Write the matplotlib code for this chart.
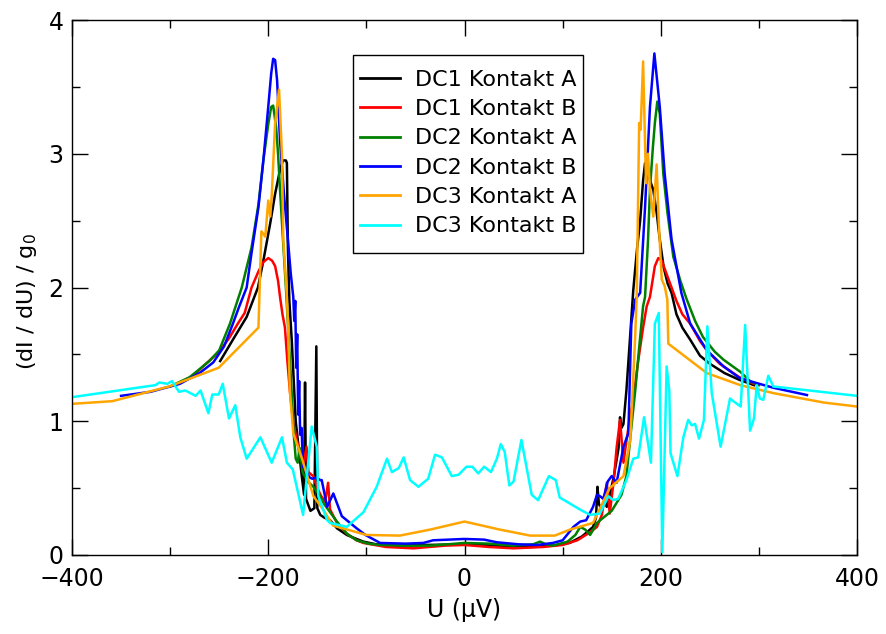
import matplotlib
matplotlib.use("Agg")
import matplotlib.pyplot as plt
from matplotlib.ticker import MultipleLocator
from matplotlib.patches import Rectangle

# ---------------- data ----------------
labels = ["DC1 Kontakt A", "DC1 Kontakt B", "DC2 Kontakt A",
          "DC2 Kontakt B", "DC3 Kontakt A", "DC3 Kontakt B"]
colors = ["#000000", "#ff0000", "#008000", "#0000ff", "#ffa500", "#00ffff"]

dc1a_x = [-249, -236, -222, -210.5, -205, -198, -193, -188, -185, -182, -181, -180, -178.5, -176,
          -174, -172, -169, -166, -163.5, -162.5, -161.5, -159, -157, -153, -151, -150, -147,
          -143, -137, -130, -120, -110, -103, -90, -69, -40, 0, 30, 67, 90, 107, 120, 131, 134,
          135.5, 137, 140, 143, 145, 148, 152, 155, 157, 158.5, 160, 162, 165, 168, 172, 176,
          179, 182, 184, 187, 190, 192.4, 196, 199, 203, 207, 211, 216, 222, 230, 240, 250, 265,
          280, 295]
dc1a_y = [1.45, 1.61, 1.78, 2.0, 2.2, 2.48, 2.7, 2.88, 2.95, 2.95, 2.93, 2.3, 1.9, 1.6,
          1.3, 1.0, 0.8, 0.6, 0.45, 1.29, 0.42, 0.37, 0.33, 0.35, 1.56, 0.35, 0.30,
          0.28, 0.26, 0.20, 0.15, 0.12, 0.10, 0.08, 0.07, 0.075, 0.08, 0.07, 0.06, 0.07, 0.09, 0.14, 0.21, 0.28,
          0.51, 0.38, 0.34, 0.40, 0.36, 0.45, 0.58, 0.71, 0.80, 1.03, 0.95, 0.98, 1.23, 1.55, 1.98, 2.3,
          2.5, 2.8, 2.93, 2.85, 2.78, 2.73, 2.55, 2.36, 2.15, 2.03, 1.96, 1.80, 1.70, 1.61, 1.49, 1.43, 1.36,
          1.31, 1.27]

dc1b_x = [-278, -265, -250, -240, -231, -224, -217, -210, -205, -200, -196, -193, -190, -188,
          -185.5, -183, -180.5, -178, -175, -171, -167, -164, -161, -159, -156, -154, -150, -146,
          -142, -139, -137, -130, -120, -110, -103, -80, -52, -20, 0, 25, 50, 80, 100, 115, 128,
          135, 140, 145, 148, 152, 155, 158.5, 162, 165, 168, 172, 177, 182, 185.7, 189, 194,
          197.5, 201, 206, 211, 216, 222, 230, 240, 247, 260, 270, 280, 295]
dc1b_y = [1.33, 1.42, 1.52, 1.62, 1.73, 1.81, 2.0, 2.12, 2.19, 2.22, 2.20, 2.16, 2.05, 1.93,
          1.80, 1.70, 1.45, 1.23, 1.02, 0.86, 0.75, 0.68, 0.81, 0.62, 0.60, 0.59, 0.50, 0.44,
          0.40, 0.54, 0.34, 0.24, 0.16, 0.11, 0.09, 0.06, 0.05, 0.07, 0.075, 0.06, 0.05, 0.06, 0.075, 0.11, 0.17,
          0.21, 0.30, 0.54, 0.31, 0.55, 0.80, 1.01, 0.69, 0.85, 1.0, 1.16, 1.45, 1.70, 1.86, 1.93, 2.16,
          2.22, 2.20, 2.10, 2.0, 1.90, 1.80, 1.73, 1.60, 1.53, 1.43, 1.38, 1.33, 1.28]

dc2a_x = [-300, -280, -260, -250, -239, -227, -217, -210, -205, -200, -197, -195, -192, -190,
          -188, -185, -182, -179, -176, -174, -172, -170, -168, -165, -160, -154, -148, -143,
          -137, -130, -120, -110, -98, -86, -60, -35, 0, 25, 49, 70, 77, 83, 90, 105, 113, 118,
          123, 128, 132, 135, 140, 145, 150, 155, 160, 165, 170, 174, 178, 182, 184, 187, 189,
          192, 194, 196.5, 199, 202.6, 207, 212.8, 220, 226, 235, 243, 255, 264, 281, 291, 300]
dc2a_y = [1.26, 1.33, 1.45, 1.53, 1.73, 2.0, 2.3, 2.62, 2.95, 3.22, 3.35, 3.36, 3.2, 3.0,
          2.73, 2.36, 2.0, 1.6, 1.2, 0.9, 0.72, 0.69, 0.8, 0.62, 0.55, 0.51, 0.45, 0.38,
          0.32, 0.25, 0.16, 0.11, 0.085, 0.075, 0.07, 0.07, 0.09, 0.085, 0.07, 0.08, 0.10, 0.08, 0.07, 0.10, 0.15, 0.21,
          0.19, 0.15, 0.20, 0.24, 0.27, 0.30, 0.33, 0.39, 0.45, 0.59, 0.95, 1.23, 1.55, 1.86, 1.93, 2.35, 2.73,
          3.05, 3.23, 3.39, 3.3, 2.85, 2.55, 2.23, 2.05, 1.92, 1.75, 1.63, 1.52, 1.46, 1.37, 1.30, 1.27]

dc2b_x = [-350, -320, -290, -270, -256, -245, -236, -230, -222, -217, -210, -205, -200, -197,
          -195, -193, -191, -188, -184, -180, -177, -174.5, -173.5, -172.5, -171.5, -170.5,
          -169.5, -168.5, -167.5, -166, -164.6, -161, -158, -155, -151, -147, -145.5, -140,
          -133.7, -125, -120, -110, -101, -86, -60, -42, -32, 0, 20, 33, 55, 74, 90, 100, 111,
          118, 124, 131, 135, 138, 141.5, 146, 150, 155, 162, 167, 170, 174, 179, 184, 189,
          193.5, 199, 204, 211, 221, 230, 247, 264, 281, 315, 349]
dc2b_y = [1.19, 1.22, 1.28, 1.36, 1.44, 1.56, 1.73, 1.85, 2.0, 2.26, 2.6, 2.95, 3.35, 3.6,
          3.71, 3.70, 3.55, 3.1, 2.7, 2.36, 2.1, 1.93, 1.75, 1.9, 1.4, 1.65,
          1.05, 1.3, 0.9, 0.95, 0.66, 0.62, 0.58, 0.57, 0.58, 0.56, 0.56, 0.36,
          0.46, 0.29, 0.26, 0.20, 0.15, 0.09, 0.085, 0.09, 0.11, 0.12, 0.115, 0.095, 0.08, 0.075, 0.09, 0.11, 0.21,
          0.25, 0.26, 0.36, 0.45, 0.44, 0.42, 0.55, 0.59, 0.54, 0.81, 0.91, 1.73, 1.91, 1.96, 2.6, 3.35,
          3.75, 3.35, 2.85, 2.36, 1.96, 1.73, 1.53, 1.41, 1.32, 1.25, 1.196]

dc3a_x = [-400, -359, -301, -250.5, -210, -207, -203, -200, -198, -196.5, -193, -189, -186,
          -184.7, -181, -179.6, -178, -174.5, -166, -154, -144, -134, -100, -66, -35, 0, 36,
          67, 92, 107.5, 131, 148, 162, 169, 173.8, 175.5, 178, 179.5, 182, 185, 187, 189,
          192.4, 195.8, 198, 201, 204, 206.7, 207.7, 247, 281, 315, 366, 400]
dc3a_y = [1.13, 1.15, 1.26, 1.40, 1.70, 2.42, 2.38, 2.65, 2.53, 2.68, 3.23, 3.48, 2.99,
          2.36, 1.93, 1.68, 1.23, 0.91, 0.73, 0.44, 0.34, 0.22, 0.15, 0.145, 0.19, 0.25, 0.19,
          0.145, 0.145, 0.19, 0.24, 0.50, 0.59, 0.86, 1.61, 1.93, 3.23, 3.18, 3.69, 2.78, 3.0, 2.73,
          2.53, 2.92, 2.48, 2.06, 2.01, 1.91, 1.58, 1.36, 1.27, 1.21, 1.14, 1.11]

dc3b_x = [-400, -315, -311, -303, -298, -291, -284.5, -274, -269, -261, -257, -250.5, -246.4,
          -240, -233.6, -228.5, -222, -208, -196.5, -186, -181, -175, -164.5, -155.7, -150.6,
          -149, -140, -137, -120, -103, -89.5, -79, -74, -67, -62, -55.5, -47, -37, -30, -23,
          -13, -6, 2, 8, 14, 20, 27, 33, 37, 41, 45.7, 50, 58, 68.5, 75, 86, 93, 97, 117.7,
          128, 138, 146.5, 151.6, 156.7, 165, 172, 177, 183, 190, 194, 198, 201.6, 206, 208.7,
          210, 217, 223, 228, 231.5, 235, 239, 244, 247.5, 252, 261, 270.6, 274, 281.5, 286,
          291, 295, 297.8, 301, 304.5, 309.6, 314.7, 400]
dc3b_y = [1.18, 1.27, 1.29, 1.28, 1.30, 1.22, 1.23, 1.19, 1.23, 1.06, 1.20, 1.20, 1.28,
          1.02, 1.12, 0.88, 0.72, 0.88, 0.69, 0.88, 0.69, 0.64, 0.30, 0.96, 0.81,
          0.44, 0.26, 0.24, 0.21, 0.32, 0.51, 0.72, 0.62, 0.65, 0.73, 0.56, 0.51, 0.57, 0.75, 0.73,
          0.59, 0.60, 0.66, 0.66, 0.61, 0.66, 0.62, 0.72, 0.83, 0.77, 0.52, 0.55, 0.86, 0.45, 0.41, 0.59, 0.56, 0.43, 0.34,
          0.30, 0.31, 0.44, 0.41, 0.42, 0.56, 0.72, 0.73, 1.03, 0.69, 1.73, 1.81, 0.02, 1.41, 1.23,
          0.76, 0.59, 0.88, 1.01, 0.97, 0.98, 0.87, 1.01, 1.71, 1.21, 0.81, 1.17, 1.15, 1.11, 1.72,
          0.93, 1.02, 1.27, 1.17, 1.16, 1.34, 1.26, 1.19]

series_x = [dc1a_x, dc1b_x, dc2a_x, dc2b_x, dc3a_x, dc3b_x]
series_y = [dc1a_y, dc1b_y, dc2a_y, dc2b_y, dc3a_y, dc3b_y]

x_ticks = [-400, -200, 0, 200, 400]
y_ticks = [0, 1, 2, 3, 4]

# ---------------- figure ----------------
plt.rcParams['font.family'] = ['DejaVu Sans']
fig = plt.figure(figsize=(8.86, 6.34), dpi=100)
ax = fig.add_axes([72 / 886, 1 - 555 / 634, 785 / 886, 535 / 634])

for xs, ys, c, lab in zip(series_x, series_y, colors, labels):
    ax.plot(xs, ys, color=c, lw=1.8, label=lab, solid_joinstyle='round')

ax.set_xlim(-400, 400)
ax.set_ylim(0, 4)
ax.set_xticks(x_ticks)
ax.set_yticks(y_ticks)
ax.xaxis.set_minor_locator(MultipleLocator(100))
ax.yaxis.set_minor_locator(MultipleLocator(0.5))
ax.tick_params(which='both', direction='in', top=True, right=True, width=1.0)
ax.tick_params(which='major', length=11.5)
ax.tick_params(which='minor', length=5.8)
ax.tick_params(axis='x', which='major', labelsize=17, pad=9)
ax.tick_params(axis='y', which='major', labelsize=17, pad=6)
for s in ax.spines.values():
    s.set_linewidth(1.0)

ax.set_xlabel("U (µV)", fontsize=17)
ax.set_ylabel("(dI / dU) / g$_0$", fontsize=16)
ax.xaxis.set_label_coords(0.5, -0.08)
ax.yaxis.set_label_coords(-0.042, 0.473)

# legend box (frame drawn separately to get the reference's padding)
frame = Rectangle((0.3576, 0.5645), 0.293, 0.3701, transform=ax.transAxes,
                  facecolor='white', edgecolor='black', lw=1.0, zorder=4.9)
ax.add_patch(frame)
leg = ax.legend(loc='upper left', bbox_to_anchor=(0.3576, 0.9204), borderaxespad=0,
                fontsize=16, frameon=False, handlelength=1.8, handletextpad=0.68,
                borderpad=0.32, labelspacing=0.42)
leg.set_zorder(5)
for h in leg.get_lines():
    h.set_linewidth(2.0)

fig.savefig("out.png", dpi=100)
